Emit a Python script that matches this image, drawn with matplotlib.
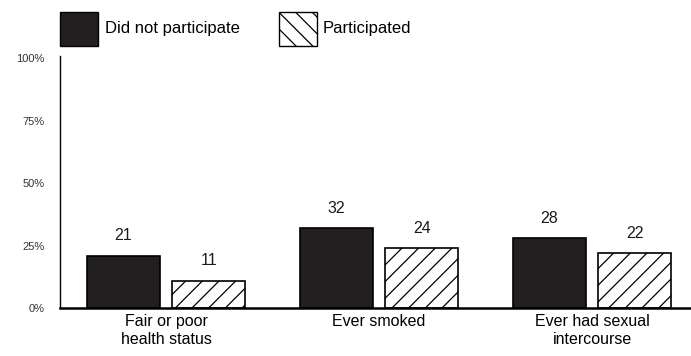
import matplotlib.pyplot as plt
import numpy as np
from matplotlib.patches import Rectangle

categories = ["Fair or poor\nhealth status", "Ever smoked", "Ever had sexual\nintercourse"]
did_not_participate = [21, 32, 28]
participated = [11, 24, 22]
yticks = [0, 25, 50, 75, 100]
ytick_labels = ["0%", "25%", "50%", "75%", "100%"]

plt.rcParams['font.family'] = ['Liberation Sans', 'DejaVu Sans']
plt.rcParams['hatch.linewidth'] = 0.9

fig = plt.figure(figsize=(6.91, 3.56), dpi=100)
ax = fig.add_axes([60 / 691, 1 - 308 / 356, 630 / 691, 252 / 356])

x = np.arange(len(categories))
width = 0.343
offset = 0.2
dark = "#231f20"

b1 = ax.bar(x - offset, did_not_participate, width, color=dark, edgecolor="black", linewidth=1.2)
b2 = ax.bar(x + offset, participated, width, color="white", edgecolor="black", linewidth=1.2, hatch="//")

for rect, v in list(zip(b1, did_not_participate)) + list(zip(b2, participated)):
    ax.annotate(str(v), (rect.get_x() + rect.get_width() / 2, v), xytext=(0, 9),
                textcoords="offset points", ha="center", va="bottom",
                fontsize=11.5, color="#1a1a1a")

ax.set_xlim(-0.498, 2.46)
ax.set_ylim(0, 101)
ax.set_yticks(yticks)
ax.set_yticklabels(ytick_labels, fontsize=8, color="#333333")
ax.set_xticks(x)
ax.set_xticklabels(categories, fontsize=11.5, linespacing=1.3)
ax.tick_params(axis="both", length=0)
ax.tick_params(axis="y", pad=11)
ax.tick_params(axis="x", pad=4)

for side in ["top", "right"]:
    ax.spines[side].set_visible(False)
ax.spines["left"].set_linewidth(1.0)
ax.spines["bottom"].set_linewidth(1.8)

# legend drawn by hand in figure pixels
W, H = 691, 356
fig.patches.append(Rectangle((60 / W, 1 - 46 / H), 38 / W, 34 / H, transform=fig.transFigure,
                             facecolor=dark, edgecolor="black", linewidth=1))
fig.text(105 / W, 1 - 29 / H, "Did not participate", fontsize=12, va="center")
fig.patches.append(Rectangle((279 / W, 1 - 46 / H), 38 / W, 34 / H, transform=fig.transFigure,
                             facecolor="white", edgecolor="black", linewidth=1, hatch="\\\\"))
fig.text(323 / W, 1 - 29 / H, "Participated", fontsize=12, va="center")

fig.savefig("out.png", dpi=100)
